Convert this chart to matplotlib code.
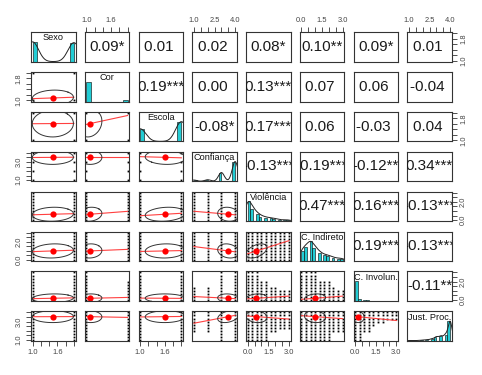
import numpy as np
import matplotlib
matplotlib.use("Agg")
import matplotlib.pyplot as plt

# ----------------------------------------------------
# DATA (read off the reference scatterplot matrix)
# ----------------------------------------------------
var_names = ["Sexo", "Cor", "Escola", "Confiança", "Violência",
             "C. Indireto", "C. Involun.", "Just. Proc."]

# observed levels of each variable and their relative frequencies
lv_sexo = [1, 2]
fr_sexo = [0.51, 0.49]
lv_cor = [1, 2]
fr_cor = [0.91, 0.09]
lv_escola = [1, 2]
fr_escola = [0.39, 0.61]
lv_confianca = [1, 2, 3, 4]
fr_confianca = [0.04, 0.05, 0.28, 0.63]
lv_violencia = [0.0, 0.33, 0.67, 1.0, 1.33, 1.67, 2.0, 2.33, 2.67, 3.0]
fr_violencia = [0.36, 0.22, 0.13, 0.08, 0.06, 0.05, 0.04, 0.02, 0.02, 0.02]
lv_indireto = [0.0, 0.33, 0.67, 1.0, 1.33, 1.67, 2.0, 2.33, 2.67, 3.0]
fr_indireto = [0.12, 0.17, 0.23, 0.15, 0.10, 0.07, 0.06, 0.04, 0.03, 0.03]
lv_involun = [0.0, 0.33, 0.67, 1.0, 1.33, 1.67, 2.0, 2.33, 2.67, 3.0]
fr_involun = [0.80, 0.08, 0.04, 0.03, 0.015, 0.01, 0.01, 0.005, 0.005, 0.005]
lv_just = [1.0, 1.33, 1.67, 2.0, 2.33, 2.67, 3.0, 3.33, 3.67, 4.0]
fr_just = [0.01, 0.01, 0.01, 0.02, 0.03, 0.05, 0.10, 0.12, 0.15, 0.50]

levels = [lv_sexo, lv_cor, lv_escola, lv_confianca,
          lv_violencia, lv_indireto, lv_involun, lv_just]
freqs = [fr_sexo, fr_cor, fr_escola, fr_confianca,
         fr_violencia, fr_indireto, fr_involun, fr_just]
n_obs = 700

# correlations and significance stars (upper triangle text)
cor_r = [
    [1.00, 0.09, 0.01, 0.02, 0.08, 0.10, 0.09, 0.01],
    [0.09, 1.00, 0.19, 0.00, 0.13, 0.07, 0.06, -0.04],
    [0.01, 0.19, 1.00, -0.08, 0.17, 0.06, -0.03, 0.04],
    [0.02, 0.00, -0.08, 1.00, -0.13, -0.19, -0.12, 0.34],
    [0.08, 0.13, 0.17, -0.13, 1.00, 0.47, 0.16, -0.13],
    [0.10, 0.07, 0.06, -0.19, 0.47, 1.00, 0.19, -0.13],
    [0.09, 0.06, -0.03, -0.12, 0.16, 0.19, 1.00, -0.11],
    [0.01, -0.04, 0.04, 0.34, -0.13, -0.13, -0.11, 1.00],
]
cor_stars = [
    ["", "*", " ", " ", "*", "**", "*", " "],
    ["", "", "***", " ", "***", " ", " ", " "],
    ["", "", "", "*", "***", " ", " ", " "],
    ["", "", "", "", "***", "***", "**", "***"],
    ["", "", "", "", "", "***", "***", "***"],
    ["", "", "", "", "", "", "***", "***"],
    ["", "", "", "", "", "", "", "**"],
    ["", "", "", "", "", "", "", ""],
]

# axis ticks
tick_step = [0.2, 0.2, 0.2, 0.5, 0.5, 0.5, 0.5, 0.5]
hist_step = [0.1, 0.1, 0.1, 0.2, 0.2, 0.2, 0.2, 0.2]
h_labels = [["1.0", "1.6"], ["1.0", "1.6"], ["1.0", "1.6"], ["1.0", "2.5", "4.0"],
            ["0.0", "1.5", "3.0"], ["0.0", "1.5", "3.0"], ["0.0", "1.5", "3.0"],
            ["1.0", "2.5", "4.0"]]
v_labels = [["1.0", "1.8"], ["1.0", "1.8"], ["1.0", "1.8"], ["1.0", "3.0"],
            ["0.0", "2.0"], ["0.0", "2.0"], ["0.0", "2.0"], ["1.0", "3.0"]]

plt.rcParams["font.family"] = ["Liberation Sans", "DejaVu Sans"]

HIST_COL = "#22CCD4"
BOX_COL = "#333333"


def summary(k):
    lv = np.array(levels[k], dtype=float)
    f = np.array(freqs[k], dtype=float)
    f = f / f.sum()
    m = (lv * f).sum()
    sd = np.sqrt((f * (lv - m) ** 2).sum())
    c = np.cumsum(f)
    q1 = lv[np.searchsorted(c, 0.25)]
    q3 = lv[np.searchsorted(c, 0.75)]
    return lv, f, m, sd, q3 - q1


def limits(k):
    lo, hi = min(levels[k]), max(levels[k])
    pad = 0.04 * (hi - lo)
    return lo - pad, hi + pad


def set_ticks(ax, k, axis, side):
    lo, hi = min(levels[k]), max(levels[k])
    ticks = np.arange(lo, hi + tick_step[k] / 2, tick_step[k])
    labs = h_labels[k] if axis == "x" else v_labels[k]
    text = [f"{t:.1f}" if f"{t:.1f}" in labs else "" for t in ticks]
    kw = dict(direction="out", length=3.5, width=0.6, color=BOX_COL,
              labelsize=5.4, labelcolor="#444444", pad=2.5)
    if axis == "x":
        ax.set_xticks(ticks)
        ax.set_xticklabels(text)
        ax.tick_params(axis="x", bottom=(side == "bottom"), labelbottom=(side == "bottom"),
                       top=(side == "top"), labeltop=(side == "top"), **kw)
    else:
        ax.set_yticks(ticks)
        ax.set_yticklabels(text, rotation=90, va="center")
        ax.tick_params(axis="y", left=(side == "left"), labelleft=(side == "left"),
                       right=(side == "right"), labelright=(side == "right"), **kw)


# ----------------------------------------------------
# PLOT
# ----------------------------------------------------
fig = plt.figure(figsize=(4.82, 3.75), dpi=100)
W, H = 482.0, 375.0
n = len(var_names)
pw, ph = 44.5, 29.6

for i in range(n):
    for j in range(n):
        x0 = 31 + j * 53.75
        y0 = 32 + i * 39.9
        ax = fig.add_axes([x0 / W, 1 - (y0 + ph) / H, pw / W, ph / H])
        for s in ax.spines.values():
            s.set_color(BOX_COL)
            s.set_linewidth(0.8)
        ax.set_xticks([])
        ax.set_yticks([])
        ax.set_xlim(*limits(j))

        lvj, fj, mj, sdj, iqrj = summary(j)

        if i == j:
            # histogram + density + name
            ax.set_ylim(0, 1.5)
            step = hist_step[j]
            lo, hi = lvj.min(), lvj.max()
            edges = np.arange(lo, hi + step / 2, step)
            idx = np.ceil((lvj - lo) / step - 1e-6).astype(int) - 1
            idx = np.clip(idx, 0, len(edges) - 2)
            counts = np.bincount(idx, weights=fj, minlength=len(edges) - 1)
            counts = counts / counts.max()
            ax.bar(edges[:-1], counts, width=step, align="edge",
                   color=HIST_COL, edgecolor="black", linewidth=0.4)
            bw = 1.06 * min(sdj, iqrj / 1.34) * n_obs ** (-0.2)
            if bw > 0:
                xs = np.linspace(lo - 3 * bw, hi + 3 * bw, 512)
                d = (fj[None, :] * np.exp(-0.5 * ((xs[:, None] - lvj[None, :]) / bw) ** 2)).sum(1)
                ax.plot(xs, d / d.max(), color="#222222", lw=0.7)
            ax.text(0.5, 0.8, var_names[j], transform=ax.transAxes,
                    ha="center", va="center", fontsize=6.6, color="#111111",
                    clip_on=True)
        else:
            ax.set_ylim(*limits(i))
            lvi, fi, mi, sdi, _ = summary(i)
            r = cor_r[i][j]
            if i < j:
                txt = f"{r:.2f}" + cor_stars[i][j]
                ax.text(0.5, 0.5, txt, transform=ax.transAxes, ha="center",
                        va="center", fontsize=11, color="#1a1a1a", clip_on=True)
            else:
                # points on the lattice of observed values
                px, py = [], []
                for a, fa in zip(lvj, fj):
                    for b, fb in zip(lvi, fi):
                        if n_obs * fa * fb >= 0.4:
                            px.append(a)
                            py.append(b)
                ax.plot(px, py, "s", ms=1.3, mec="none", color="black", clip_on=False)
                # smoother
                xs = np.array([lvj.min(), lvj.max()])
                ax.plot(xs, mi + r * sdi / sdj * (xs - mj), color="#ff4040", lw=0.8)
                # correlation ellipse (psych style)
                ang = np.linspace(0, 2 * np.pi, 52)
                circ = np.column_stack([np.cos(ang), np.sin(ang)])
                th = (np.sign(r) if r != 0 else 1) / np.sqrt(2)
                shape = np.diag([np.sqrt(1 + r), np.sqrt(1 - r)]) @ np.array([[th, th], [-th, th]])
                el = circ @ shape
                ax.plot(el[:, 0] * sdj + mj, el[:, 1] * sdi + mi, color="#333333", lw=0.7)
                ax.plot([mj], [mi], "o", ms=4.5, color="red", mec="none")

        # outer axes
        if i == 0 and j % 2 == 1:
            set_ticks(ax, j, "x", "top")
        if i == n - 1 and j % 2 == 0:
            set_ticks(ax, j, "x", "bottom")
        if j == 0 and i % 2 == 1:
            set_ticks(ax, i, "y", "left")
        if j == n - 1 and i % 2 == 0:
            set_ticks(ax, i, "y", "right")

fig.savefig("out.png", dpi=100)
